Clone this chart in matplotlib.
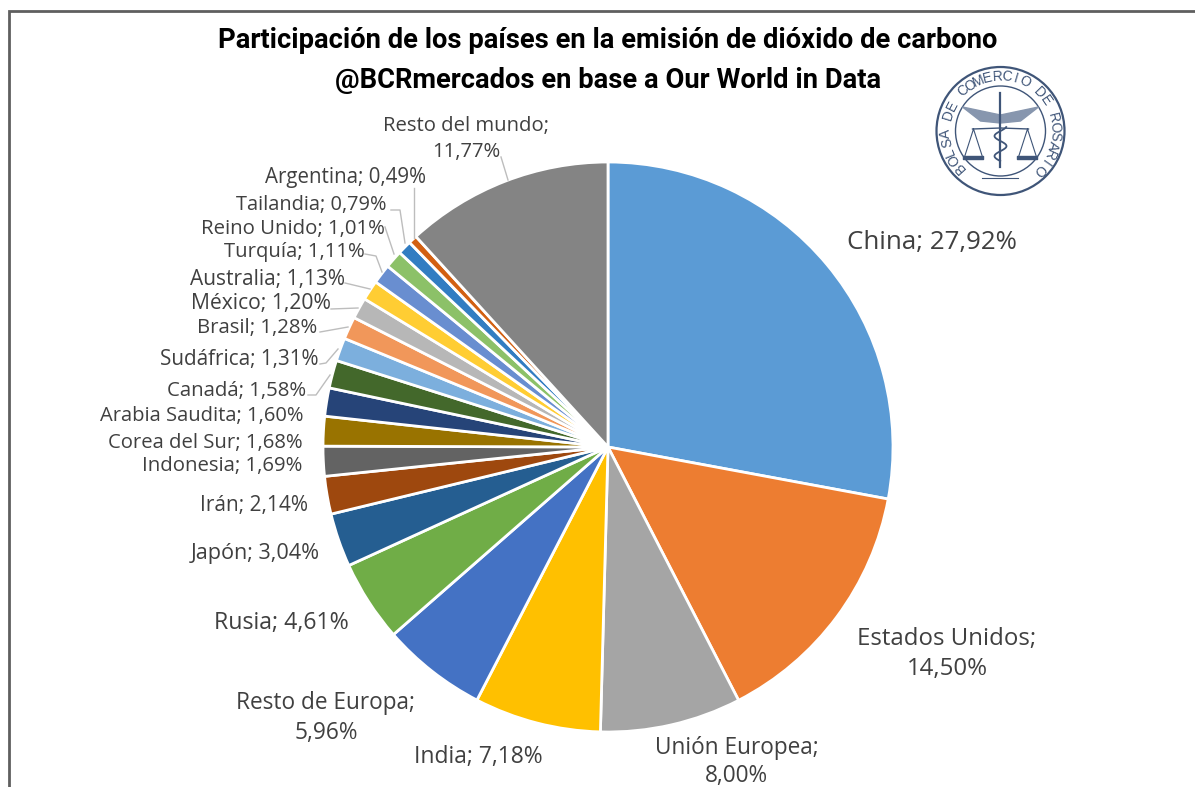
import numpy as np
import matplotlib
matplotlib.use("Agg")
import matplotlib.pyplot as plt
from matplotlib.patches import Circle

W, H = 1195, 787
title_lines = ["Participación de los países en la emisión de dióxido de carbono",
               "@BCRmercados en base a Our World in Data"]
categories = ["China", "Estados Unidos", "Unión Europea", "India", "Resto de Europa", "Rusia",
              "Japón", "Irán", "Indonesia", "Corea del Sur", "Arabia Saudita", "Canadá",
              "Sudáfrica", "Brasil", "México", "Australia", "Turquía", "Reino Unido",
              "Tailandia", "Argentina", "Resto del mundo"]
values = [27.92, 14.50, 8.00, 7.18, 5.96, 4.61, 3.04, 2.14, 1.69, 1.68, 1.60, 1.58,
          1.31, 1.28, 1.20, 1.13, 1.11, 1.01, 0.79, 0.49, 11.77]
colors = ["#5B9BD5", "#ED7D31", "#A5A5A5", "#FFC000", "#4472C4", "#70AD47", "#255E91",
          "#9E480E", "#636363", "#997300", "#264478", "#43682B", "#7CAFDD", "#F1975A",
          "#B7B7B7", "#FFCD33", "#698ED0", "#8CC168", "#327DC2", "#D26012", "#848484"]
value_text = [f"{v:.2f}%".replace(".", ",") for v in values]

# label layout: pixel centre (x, y from top), size, line spacing (None = single line)
label_layout = {
    "China": (932, 243, 18.6, None), "Estados Unidos": (947, 654, 17.3, 1.36),
    "Unión Europea": (736.5, 762, 16.3, 1.25), "India": (478.5, 757, 16.5, None),
    "Resto de Europa": (326, 718, 16.3, 1.36), "Rusia": (281.5, 623, 16.7, None),
    "Japón": (255.5, 553, 15.6, None), "Irán": (254, 505, 15, None),
    "Indonesia": (222.5, 466, 14.7, None), "Corea del Sur": (205.5, 443, 14.6, None),
    "Arabia Saudita": (201.5, 416, 14.5, None), "Canadá": (236.5, 391, 14.7, None),
    "Sudáfrica": (239, 360, 14.9, None), "Brasil": (257.5, 328, 14.7, None),
    "México": (260.5, 303, 15.2, None), "Australia": (268, 279, 15, None),
    "Turquía": (294, 252, 14.6, None), "Reino Unido": (292.5, 229, 14.7, None),
    "Tailandia": (311, 205, 14.4, None), "Argentina": (346, 178, 14.8, None),
    "Resto del mundo": (466, 139, 14.6, 1.36),
}
leaders = {
    "Argentina": [(414, 188), (414, 238)], "Tailandia": [(391, 210), (400, 210), (405, 243)],
    "Reino Unido": [(385, 227), (394, 254)], "Turquía": [(365, 254), (376, 256), (382, 272)],
    "Australia": [(345, 283), (370, 289)], "México": [(331, 309), (358, 308)],
    "Brasil": [(320, 332), (348, 327)], "Sudáfrica": [(320, 364), (326, 363), (338, 349)],
    "Canadá": [(308, 395), (316, 395), (330, 375)],
    "Resto del mundo": [(501, 157), (508, 180)],
}

plt.rcParams["font.family"] = ["Open Sans", "DejaVu Sans"]
fig = plt.figure(figsize=(W / 100, H / 100), dpi=100, facecolor="white")
ax = fig.add_axes([0, 0, 1, 1])
Y = lambda y: H - y

ax.pie(values, colors=colors, startangle=90, counterclock=False, center=(608, Y(447)), radius=285,
       wedgeprops=dict(edgecolor="white", linewidth=2), frame=True)
ax.set_xlim(0, W)
ax.set_ylim(0, H)
ax.set_aspect("equal")
ax.axis("off")

# outer frame of the screenshot
ax.plot([9.5, 9.5, W], [0, Y(11), Y(11)], color="#5f5f5f", lw=2, solid_joinstyle="miter")

tfont = dict(family=["Roboto", "Liberation Sans"], weight="bold", color="black",
             ha="center", va="center", fontsize=19.7)
ax.text(608, Y(41), title_lines[0], **tfont)
ax.text(608, Y(81), title_lines[1], **tfont)

for name, vt in zip(categories, value_text):
    x, y, size, spacing = label_layout[name]
    text = f"{name};\n{vt}" if spacing else f"{name}; {vt}"
    ax.text(x, Y(y), text, ha="center", va="center", fontsize=size, color="#404040",
            linespacing=spacing or 1.2, clip_on=False)
for pts in leaders.values():
    ax.plot([p[0] for p in pts], [Y(p[1]) for p in pts], color="#bdbdbd", lw=1, zorder=1.5)

# seal of the Bolsa de Comercio de Rosario
seal = "#3f5578"
cx, cy = 1000.5, Y(131)
for r, lw in [(64, 1.6), (45, 1.0)]:
    ax.add_patch(Circle((cx, cy), r, fill=False, ec=seal, lw=lw))
seal_text = "BOLSA DE COMERCIO DE ROSARIO"
angles = np.linspace(222, -45, len(seal_text))
for ch, a in zip(seal_text, angles):
    t = np.deg2rad(a)
    ax.text(cx + 54.5 * np.cos(t), cy + 54.5 * np.sin(t), ch, rotation=a - 90, rotation_mode="anchor",
            ha="center", va="center", fontsize=10, color=seal, family="Liberation Sans")
# staff, wings, snake and scales
ax.plot([cx, cx], [cy - 36, cy + 38], color=seal, lw=1.6)
for s in (-1, 1):
    ax.fill([cx, cx + s * 38, cx + s * 20, cx], [cy + 16, cy + 24, cy + 10, cy + 8], color="#8796ae")
    ax.plot([cx, cx + s * 28], [cy + 3, cy + 2], color=seal, lw=1)
    px = cx + s * 27
    ax.plot([px, px - 9, px + 9, px], [cy + 2, cy - 26, cy - 26, cy + 2], color=seal, lw=.8)
    ax.fill_between([px - 10, px + 10], cy - 28, cy - 25, color=seal)
yy = np.linspace(cy - 30, cy + 4, 60)
ax.plot(cx + 6 * np.sin((yy - cy) / 3.2), yy, color=seal, lw=1.3)
ax.plot([cx - 18, cx + 18], [cy - 47, cy - 47], color=seal, lw=.8)

fig.savefig("out.png", dpi=100, facecolor="white")
